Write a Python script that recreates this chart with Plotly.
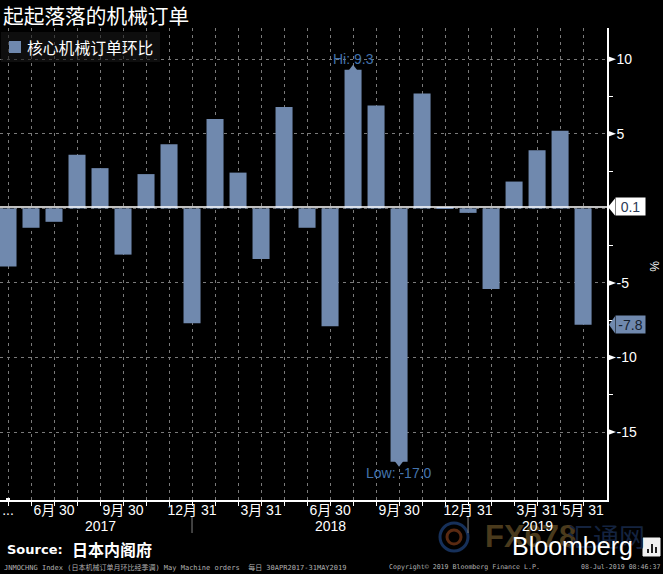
import plotly.graph_objects as go

# monthly, Apr 2017 - May 2019
months = ['2017-04', '2017-05', '2017-06', '2017-07', '2017-08', '2017-09', '2017-10', '2017-11', '2017-12',
          '2018-01', '2018-02', '2018-03', '2018-04', '2018-05', '2018-06', '2018-07', '2018-08', '2018-09',
          '2018-10', '2018-11', '2018-12', '2019-01', '2019-02', '2019-03', '2019-04', '2019-05']
values = [-3.9, -1.3, -0.9, 3.6, 2.7, -3.1, 2.3, 4.3, -7.7,
          6.0, 2.4, -3.4, 6.8, -1.3, -7.9,
          9.3, 6.9, -17.0, 7.7, 0.05, -0.3, -5.4, 1.8, 3.9, 5.2, -7.8]

tick_pos = [0, 2, 5, 8, 11, 14, 17, 20, 23, 25]
tick_text = ['...', '6月 30', '9月 30', '12月 31', '3月 31', '6月 30', '9月 30', '12月 31', '3月 31', '5月 31']
year_pos = [4, 14, 23]
year_text = ['2017', '2018', '2019']
year_sep = [8, 20]

y_major = [10, 5, -5, -10, -15]
y_minor = [7.5, 2.5, -2.5, -7.5, -12.5]
last_value = 0.1
low_last = -7.8

BAR = '#7089AE'
LABEL_BLUE = '#4474AE'
GRID = '#7a7a7a'
GRID_DASH = '3px,4px'
CJK = '"Liberation Sans", "Noto Sans CJK SC", sans-serif'

idx = list(range(len(months)))
x_left = -0.348
x_right = 26.04
y_bottom = -19.56
y_top = 12.1

fig = go.Figure()
fig.add_trace(go.Bar(x=idx, y=values, width=0.74, marker=dict(color=BAR, line=dict(width=0)), showlegend=False))

# little tips on the high and the low bar
hi = values.index(max(values))
lo = values.index(min(values))
fig.add_trace(go.Scatter(x=[hi], y=[values[hi]], mode='markers', showlegend=False,
                         marker=dict(symbol='triangle-up', size=10, color=BAR)))
fig.add_trace(go.Scatter(x=[lo], y=[values[lo]], mode='markers', showlegend=False,
                         marker=dict(symbol='triangle-down', size=10, color=BAR)))
fig.add_trace(go.Scatter(x=[idx[0]], y=[y_bottom], mode='markers', showlegend=False,
                         cliponaxis=False, marker=dict(symbol='square', size=4, color='white')))

fig.update_xaxes(range=[x_left, x_right], tickmode='array', tickvals=tick_pos, ticktext=tick_text,
                 showgrid=False, zeroline=False, showline=True, linecolor='white', linewidth=1.5,
                 ticks='outside', ticklen=0, ticklabelstandoff=-4,
                 tickfont=dict(family=CJK, size=14, color='white'), tickangle=0,
                 minor=dict(tickmode='array', tickvals=idx, ticks='outside', ticklen=4, tickcolor='white',
                            showgrid=True, gridcolor=GRID, griddash=GRID_DASH, gridwidth=1))
fig.update_yaxes(range=[y_bottom, y_top], side='right', tickmode='array', tickvals=y_major,
                 ticktext=['10', '5', '-5', '-10', '-15'], showgrid=True, gridcolor=GRID,
                 griddash=GRID_DASH, gridwidth=1, zeroline=False, showline=True, linecolor='white',
                 linewidth=1.5, ticks='outside', ticklen=9, tickcolor='rgba(0,0,0,0)', ticklabelstandoff=-4,
                 tickfont=dict(family=CJK, size=14, color='white'),
                 minor=dict(tickmode='array', tickvals=y_minor, ticks='outside', ticklen=4, tickcolor='white'))


# page pixels mapped onto paper
def px(x):
    return x / 607


def py(y):
    return (500 - y) / 472


def axis_arrow(value, path, color):
    # pixel sized path hung on the right edge at a data value, paper x so it is not clipped
    return dict(type='path', xref='paper', yref='y', xsizemode='pixel', ysizemode='pixel', xanchor=1,
                yanchor=value, path=path, fillcolor=color, line=dict(width=0))


shapes = [
    dict(type='line', xref='x', yref='y', x0=x_left, x1=x_right, y0=0, y1=0,
         line=dict(color=GRID, width=1, dash=GRID_DASH), layer='below'),
    dict(type='line', xref='x', yref='y', x0=x_left, x1=x_right, y0=last_value, y1=last_value,
         line=dict(color='white', width=1.5)),
    # legend box and swatch
    dict(type='rect', xref='paper', yref='paper', x0=px(1), x1=px(160), y0=py(62), y1=py(32),
         fillcolor='rgba(24,24,24,0.6)', line=dict(width=0)),
    dict(type='rect', xref='paper', yref='paper', x0=px(9), x1=px(21), y0=py(53), y1=py(41),
         fillcolor=BAR, line=dict(width=0)),
    # watermark swirl
    dict(type='circle', xref='paper', yref='paper', x0=px(440), x1=px(468), y0=py(551), y1=py(523),
         line=dict(color='#16305a', width=3)),
    dict(type='circle', xref='paper', yref='paper', x0=px(447), x1=px(461), y0=py(544), y1=py(530),
         line=dict(color='#5a2a12', width=3)),
    # bloomberg icon
    dict(type='rect', xref='paper', yref='paper', x0=px(643), x1=px(660), y0=py(556), y1=py(538),
         fillcolor='#f2f2f2', line=dict(color='#f2f2f2', width=1)),
    axis_arrow(last_value, 'M 1 0 L 8 -8.5 L 8 8.5 Z', 'white'),
    axis_arrow(low_last, 'M 2 0 L 8 -8.5 L 8 8.5 Z', BAR),
]
for v in y_major:
    shapes.append(axis_arrow(v, 'M 1 -3 L 9 0 L 1 3 Z', 'white'))
for s in year_sep:
    shapes.append(dict(type='line', xref='x', yref='paper', x0=s, x1=s, y0=py(533), y1=py(517),
                       line=dict(color='#808080', width=1)))
for bar_x, bar_top in [(647, 549), (651, 544), (655, 547)]:
    shapes.append(dict(type='rect', xref='paper', yref='paper', x0=px(bar_x), x1=px(bar_x + 2), y0=py(553),
                       y1=py(bar_top), fillcolor='#222222', line=dict(width=0)))


def page_text(x, y, text, size, color, family=CJK, anchor='left', **kw):
    return dict(xref='paper', yref='paper', x=px(x), y=py(y), text=text, showarrow=False, xanchor=anchor,
                yanchor='middle', font=dict(family=family, size=size, color=color), **kw)


annotations = [
    page_text(483, 536, '<b>FX678</b>', 31, '#4a3a1c', family='"Liberation Sans Narrow", "Liberation Sans"'),
    page_text(565, 535, '汇通网', 26, '#14233f', family='"Noto Sans CJK SC"'),
    page_text(1, 15, '起起落落的机械订单', 20.7, 'white', family='"Noto Sans CJK SC"'),
    page_text(25, 47, '核心机械订单环比', 15.8, 'white', family='"Noto Sans CJK SC"'),
    page_text(5, 549, '<b>Source:</b>', 13, 'white', family='"DejaVu Sans"'),
    page_text(70, 549, '<b>日本内阁府</b>', 16, 'white', family='"Noto Sans CJK SC"'),
    page_text(2, 567, 'JNMOCHNG Index (日本机械订单月环比经季调) May Machine orders  每日 30APR2017-31MAY2019',
              7, '#b0b0b0', family='"DejaVu Sans Mono", "Noto Sans CJK SC"'),
    page_text(387, 567, 'Copyright© 2019 Bloomberg Finance L.P.', 6.6, '#b0b0b0', family='"DejaVu Sans Mono"'),
    page_text(579, 567, '08-Jul-2019 08:46:37', 6.6, '#b0b0b0', family='"DejaVu Sans Mono"'),
    page_text(510, 546, 'Bloomberg', 25, 'white', family='"Liberation Sans"'),
    page_text(654, 266, '%', 12, 'white', textangle=90, anchor='center'),
    dict(xref='x', yref='y', x=hi, y=values[hi], yshift=11, text=f'Hi: {values[hi]}', showarrow=False,
         font=dict(family=CJK, size=14, color=LABEL_BLUE)),
    dict(xref='x', yref='y', x=lo, y=values[lo], yshift=-11, text=f'Low: {values[lo]:.1f}', showarrow=False,
         font=dict(family=CJK, size=14, color=LABEL_BLUE)),
    dict(xref='paper', yref='y', x=px(615), y=last_value, text=str(last_value), showarrow=False, xanchor='left',
         bgcolor='white', borderpad=1, width=27, height=15, font=dict(family=CJK, size=14, color='#2b3a55')),
    dict(xref='paper', yref='y', x=px(615), y=low_last, text=str(low_last), showarrow=False, xanchor='left',
         bgcolor=BAR, borderpad=1, width=27, height=15, font=dict(family=CJK, size=14, color='#14202f')),
]
for p, t in zip(year_pos, year_text):
    annotations.append(dict(xref='x', yref='paper', x=p, y=py(526), text=t, showarrow=False, yanchor='middle',
                            font=dict(family=CJK, size=14, color='white')))

fig.update_layout(width=663, height=574, autosize=False, margin=dict(l=0, r=56, t=28, b=74, pad=0),
                  paper_bgcolor='black', plot_bgcolor='black', bargap=0.26, shapes=shapes,
                  annotations=annotations, showlegend=False)

fig.write_html("out.html", config={'displayModeBar': False}, post_script="document.body.style.margin='0';")
